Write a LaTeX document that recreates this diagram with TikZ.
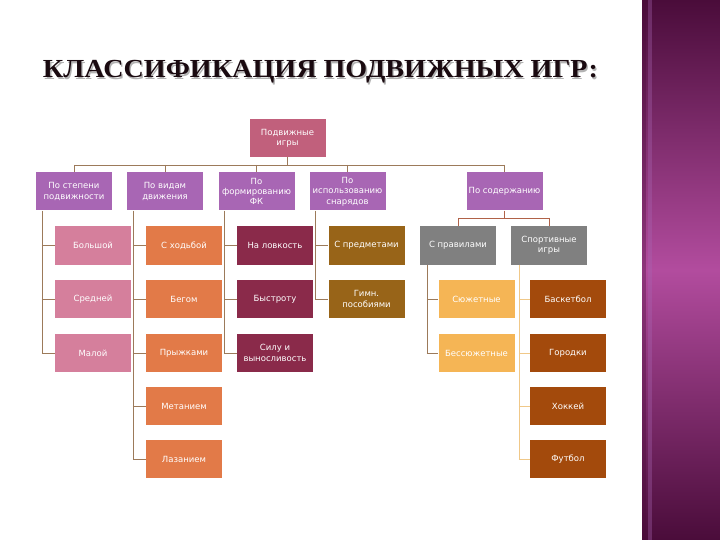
\documentclass[tikz,border=0pt]{standalone}
\usepackage{fontspec}
\setmainfont{Liberation Serif}
\newfontfamily\boxfont{DejaVu Sans}
\usetikzlibrary{positioning}
\definecolor{topc}{HTML}{C1607C}
\definecolor{lvlc}{HTML}{A866B4}
\definecolor{pinkc}{HTML}{D57F9C}
\definecolor{orc}{HTML}{E27A48}
\definecolor{marc}{HTML}{8A2A4A}
\definecolor{brc}{HTML}{986418}
\definecolor{grc}{HTML}{808080}
\definecolor{lorc}{HTML}{F5B555}
\definecolor{dorc}{HTML}{A34A0C}
\definecolor{linec}{HTML}{9C7A5A}
\definecolor{linel}{HTML}{F0C888}
\definecolor{bardark}{HTML}{4A0C3A}
\definecolor{barmid}{HTML}{B24C9E}
\definecolor{titlec}{HTML}{1A0A10}
\begin{document}
\begin{tikzpicture}[x=1pt,y=-1pt,
  box/.style={minimum width=76pt,minimum height=38pt,inner sep=0.5pt,align=center,
    text=white,font=\boxfont\fontsize{8.5}{10.3}\selectfont},
  conn/.style={draw=linec,line width=0.6pt}]
\useasboundingbox (0,0) rectangle (720,540);
\fill[white] (0,0) rectangle (720,540);
% side bar
\shade[top color=bardark,bottom color=barmid] (642,0) rectangle (720,270);
\shade[top color=barmid,bottom color=bardark] (642,270) rectangle (720,540);
\fill[bardark,opacity=0.35] (642,0) rectangle (646,540);
\fill[lvlc,opacity=0.35] (648,0) rectangle (652,540);
% title
\node[text=gray!60,font=\bfseries\fontsize{26}{28}\selectfont] at (321.8,73.3) {\scalebox{1.082}[1]{КЛАССИФИКАЦИЯ ПОДВИЖНЫХ ИГР:}};
\node[text=titlec,font=\bfseries\fontsize{26}{28}\selectfont] (title) at (320.5,72) {\scalebox{1.082}[1]{КЛАССИФИКАЦИЯ ПОДВИЖНЫХ ИГР:}};
% nodes
\node[box,fill=topc] (root) at (287.5,138) {Подвижные\\игры};
\node[box,fill=lvlc] (A) at (74,191.5) {По степени\\подвижности};
\node[box,fill=lvlc] (B) at (165,191.5) {По видам\\движения};
\node[box,fill=lvlc] (C) at (256.5,191.5) {По\\формированию\\ФК};
\node[box,fill=lvlc] (D) at (347.5,191.5) {По\\использованию\\снарядов};
\node[box,fill=lvlc] (E) at (504.5,191.5) {По содержанию};
\node[box,fill=pinkc] (A1) at (93,245.5) {Большой};
\node[box,fill=pinkc] (A2) at (93,299) {Средней};
\node[box,fill=pinkc] (A3) at (93,353) {Малой};
\node[box,fill=orc] (B1) at (184,245.5) {С ходьбой};
\node[box,fill=orc] (B2) at (184,299) {Бегом};
\node[box,fill=orc] (B3) at (184,353) {Прыжками};
\node[box,fill=orc] (B4) at (184,406) {Метанием};
\node[box,fill=orc] (B5) at (184,459) {Лазанием};
\node[box,fill=marc] (C1) at (275,245.5) {На ловкость};
\node[box,fill=marc] (C2) at (275,299) {Быстроту};
\node[box,fill=marc] (C3) at (275,353) {Силу и\\выносливость};
\node[box,fill=brc] (D1) at (366.5,245.5) {С предметами};
\node[box,fill=brc] (D2) at (366.5,299) {Гимн.\\пособиями};
\node[box,fill=grc] (E1) at (458,245.5) {С правилами};
\node[box,fill=grc] (E2) at (549,245.5) {Спортивные\\игры};
\node[box,fill=lorc] (E11) at (476.5,299) {Сюжетные};
\node[box,fill=lorc] (E12) at (476.5,353) {Бессюжетные};
\node[box,fill=dorc] (E21) at (568,299) {Баскетбол};
\node[box,fill=dorc] (E22) at (568,353) {Городки};
\node[box,fill=dorc] (E23) at (568,406) {Хоккей};
\node[box,fill=dorc] (E24) at (568,459) {Футбол};
% root connectors
\coordinate (hb) at (0,165);
\draw[conn] (root.south) -- (root.south |- hb);
\draw[conn] (A.north |- hb) -- (E.north |- hb);
\foreach \n in {A,B,C,D,E} \draw[conn] (\n.north |- hb) -- (\n.north);
% column connectors
\foreach \p/\last/\kids in {A/A3/{A1,A2,A3},B/B5/{B1,B2,B3,B4,B5},C/C3/{C1,C2,C3},D/D2/{D1,D2}}{
  \draw[conn] ([xshift=6pt]\p.south west) -- ([xshift=6pt]\p.south west |- \last.west);
  \foreach \k in \kids \draw[conn] ([xshift=6pt]\p.south west |- \k.west) -- (\k.west);
}
% content connectors
\coordinate (hb2) at (0,218);
\draw[conn,draw=linec!80!red] (E.south) -- (E.south |- hb2);
\draw[conn,draw=linec!80!red] (E1.north |- hb2) -- (E2.north |- hb2);
\draw[conn,draw=linec!80!red] (E1.north |- hb2) -- (E1.north);
\draw[conn,draw=linec!80!red] (E2.north |- hb2) -- (E2.north);
\draw[conn] ([xshift=7pt]E1.south west) -- ([xshift=7pt]E1.south west |- E12.west);
\foreach \k in {E11,E12} \draw[conn] ([xshift=7pt]E1.south west |- \k.west) -- (\k.west);
\draw[conn,draw=linel] ([xshift=8pt]E2.south west) -- ([xshift=8pt]E2.south west |- E24.west);
\foreach \k in {E21,E22,E23,E24} \draw[conn,draw=linel] ([xshift=8pt]E2.south west |- \k.west) -- (\k.west);
\end{tikzpicture}
\end{document}
